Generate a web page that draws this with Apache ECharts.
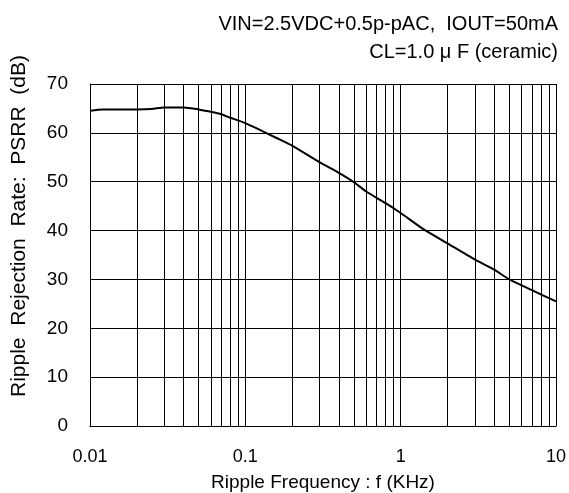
<!DOCTYPE html>
<html><head><meta charset="utf-8">
<script src="https://cdn.jsdelivr.net/npm/echarts@6/dist/echarts.min.js"></script>
<style>html,body{margin:0;padding:0;background:#fff}#c{width:569px;height:493px}</style>
</head><body><div id="c"></div>
<script>
const freq = [0.01,0.012,0.015,0.02,0.025,0.03,0.04,0.05,0.06,0.07,0.08,0.1,0.124,0.16,0.2,0.3,0.4,0.5,0.6,0.8,1.0,1.4,2.0,3.0,4.0,5.0,7.0,10];
const psrr = [64.5,64.8,64.8,64.8,64.9,65.2,65.2,64.8,64.3,63.8,63.1,62.0,60.6,58.9,57.4,54.0,51.8,49.9,48.0,45.6,43.6,40.3,37.4,34.1,32.0,30.0,27.8,25.5];
const minorGrid = [0.02,0.03,0.04,0.05,0.06,0.07,0.08,0.09,0.2,0.3,0.4,0.5,0.6,0.7,0.8,0.9,2,3,4,5,6,7,8,9];
const yTicks = [0,10,20,30,40,50,60,70];
const titleLines = ['VIN=2.5VDC+0.5p-pAC,  IOUT=50mA','CL=1.0 μ F (ceramic)'];
const xName = 'Ripple Frequency : f (KHz)';
const yName = 'Ripple  Rejection  Rate:  PSRR  (dB)';

const font = 'Liberation Sans, Arial, sans-serif';
const chart = echarts.init(document.getElementById('c'), null, {renderer:'canvas'});
chart.setOption({
  animation:false,
  title: [
    {text:titleLines[0], right:6, top:9, textStyle:{fontFamily:font,fontSize:20,fontWeight:'normal',color:'#000'}},
    {text:titleLines[1], right:6, top:37, textStyle:{fontFamily:font,fontSize:20,fontWeight:'normal',color:'#000'}}
  ],
  grid:{left:90,right:13,top:84,bottom:67,outerBoundsMode:'none',containLabel:false},
  xAxis:{type:'log',logBase:10,min:0.01,max:10,
    name:xName,nameLocation:'middle',nameGap:47,
    nameTextStyle:{fontFamily:font,fontSize:19,color:'#000'},
    axisLine:{lineStyle:{color:'#000',width:1}},
    axisTick:{show:false},
    axisLabel:{fontFamily:font,fontSize:18,color:'#000',margin:22,formatter:v=>String(v)},
    splitLine:{show:true,lineStyle:{color:'#000',width:1}}
  },
  yAxis:{type:'value',min:0,max:70,interval:10,
    name:yName,nameLocation:'middle',nameGap:60,
    nameTextStyle:{fontFamily:font,fontSize:21,color:'#000',padding:[0,0,0,58]},
    axisLine:{show:true,lineStyle:{color:'#000',width:1}},
    axisTick:{show:false},
    axisLabel:{fontFamily:font,fontSize:19,color:'#000',margin:22,
      formatter:v=>yTicks.includes(v)?String(v):''},
    splitLine:{show:true,lineStyle:{color:'#000',width:1}}
  },
  series:[{
    type:'line',data:freq.map((f,i)=>[f,psrr[i]]),
    smooth:0.2,showSymbol:false,
    lineStyle:{color:'#000',width:2},
    markLine:{silent:true,symbol:'none',label:{show:false},
      lineStyle:{color:'#000',width:1,type:'solid'},
      data:minorGrid.map(v=>({xAxis:v}))}
  }]
});
</script></body></html>
